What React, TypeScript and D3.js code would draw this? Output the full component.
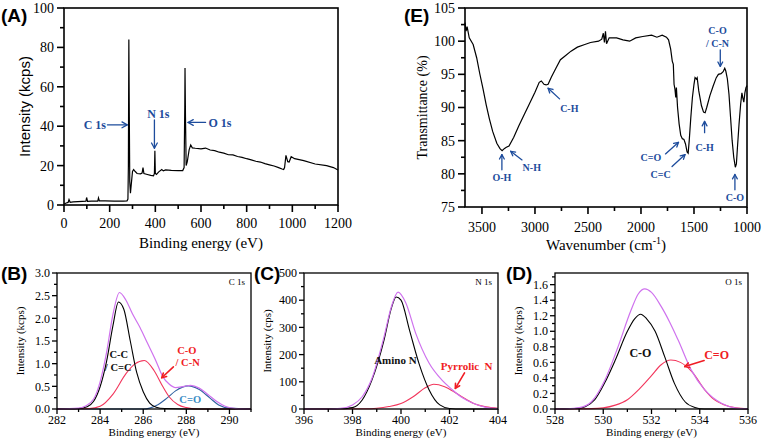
import React from "react";
import * as d3 from "d3";

type P = [number, number];

// (A) XPS survey: binding energy (eV), intensity (kcps)
const surveyPoints: P[] = [
  [0, 0.5], [10, 1.0], [18, 1.3], [22, 2.8], [27, 1.4], [40, 1.6], [60, 1.7], [80, 1.8], [96, 1.9], [99, 3.8],
  [103, 1.9], [120, 2.0], [148, 2.0], [151, 3.6], [155, 2.1], [180, 2.1], [220, 2.0], [260, 2.0], [276, 2.1],
  [280, 3], [282, 20], [284, 84], [286, 45], [288, 12], [291, 6], [295, 11], [300, 17], [305, 18], [312, 17],
  [320, 16], [335, 15.8], [342, 16.2], [346, 19], [350, 16], [365, 15.5], [380, 15], [392, 14.8], [396, 16],
  [398, 27.5], [400, 16], [405, 15.5], [415, 16.8], [428, 18], [435, 17.3], [445, 17.8], [470, 17.6], [500, 17.5],
  [520, 17.5], [526, 19], [529, 50], [530, 69.5], [532, 45], [535, 20], [540, 22], [548, 28], [555, 30.5],
  [562, 29], [575, 28.8], [600, 28.5], [620, 28.9], [640, 27.9], [660, 27.6], [680, 26.8], [700, 26.3],
  [720, 25.5], [740, 25.4], [760, 24.6], [780, 24.2], [800, 23.5], [820, 22.9], [840, 22.2], [860, 21.8],
  [880, 21.0], [900, 20.4], [920, 19.8], [940, 19.0], [955, 18.3], [962, 18], [966, 19], [972, 25.2], [980, 22],
  [986, 21.8], [995, 24.5], [1010, 23.5], [1050, 22.5], [1100, 20.8], [1150, 20], [1180, 19], [1200, 17.8],
];
const surveyXTicks = [0, 200, 400, 600, 800, 1000, 1200];
const surveyYTicks = [0, 20, 40, 60, 80, 100];
const surveyLabels = [
  { text: "C 1s", x: 135, y: 40.7 },
  { text: "N 1s", x: 413, y: 46.3 },
  { text: "O 1s", x: 683, y: 41.9 },
];
const surveyArrows = [
  { x1: 190, y1: 40.7, x2: 277, y2: 40.7 },
  { x1: 396, y1: 43.2, x2: 396, y2: 28.8 },
  { x1: 620, y1: 41.9, x2: 543, y2: 41.9 },
];

// (E) FTIR: wavenumber (cm-1), transmittance (%)
const ftirPoints: P[] = [
  [3660, 102.8], [3650, 101.5], [3640, 102.2], [3620, 100.5], [3583, 99.5], [3550, 97.5], [3522, 95.2],
  [3490, 92.8], [3460, 90.4], [3430, 88.3], [3399, 86.4], [3360, 84.6], [3330, 83.8], [3310, 83.5],
  [3290, 83.8], [3270, 84.0], [3245, 84.2], [3200, 85.5], [3153, 87.2], [3100, 89.0], [3060, 90.3],
  [3000, 92.3], [2960, 93.8], [2940, 94.0], [2915, 93.5], [2895, 93.4], [2876, 93.5], [2845, 94.6],
  [2800, 96.0], [2760, 97.2], [2722, 97.7], [2660, 98.5], [2600, 99.1], [2530, 99.5], [2476, 99.8],
  [2400, 100.0], [2370, 100.3], [2355, 101.2], [2345, 99.8], [2335, 101.5], [2325, 99.6], [2300, 100.5],
  [2230, 100.5], [2170, 100.2], [2107, 100.0], [2050, 100.5], [1983, 100.7], [1900, 100.9], [1850, 100.6],
  [1800, 100.9], [1760, 100.6], [1740, 100.2], [1720, 98.8], [1705, 97], [1695, 96.5], [1688, 93.5],
  [1680, 92.8], [1672, 91.5], [1666, 93], [1655, 90], [1640, 87.5], [1625, 85.8], [1610, 85.3], [1595, 85.2],
  [1580, 84.5], [1565, 83.3], [1555, 83.1], [1545, 85], [1530, 88.5], [1515, 91.5], [1500, 93.5], [1490, 94.5],
  [1478, 94.3], [1470, 94.5], [1455, 92.5], [1430, 90.3], [1410, 89.3], [1395, 89.2], [1380, 90], [1350, 91.8],
  [1320, 93.2], [1290, 94.5], [1270, 95.0], [1245, 95.1], [1225, 95.4], [1210, 95.9], [1200, 95.5], [1185, 94.3],
  [1170, 92], [1155, 88.5], [1140, 85], [1125, 82.5], [1110, 81.0], [1100, 81.5], [1090, 84], [1075, 87.5],
  [1060, 90.5], [1048, 92.2], [1040, 91.5], [1030, 90.8], [1020, 92.2], [1010, 93], [1000, 93.3],
];
const ftirXTicks = [3500, 3000, 2500, 2000, 1500, 1000];
const ftirYTicks = [75, 80, 85, 90, 95, 100, 105];
const ftirLabels = [
  { text: "O-H", x: 3312, y: 79.4 },
  { text: "N-H", x: 3030, y: 80.9 },
  { text: "C-H", x: 2676, y: 89.9 },
  { text: "C=O", x: 1907, y: 82.4 },
  { text: "C=C", x: 1815, y: 79.9 },
  { text: "C-H", x: 1400, y: 83.9 },
  { text: "C-O", x: 1278, y: 101.6 },
  { text: "/ C-N", x: 1278, y: 99.7 },
  { text: "C-O", x: 1114, y: 76.4 },
];
const ftirArrows = [
  { x1: 3312, y1: 80.6, x2: 3312, y2: 82.9 },
  { x1: 3122, y1: 82.1, x2: 3229, y2: 83.4 },
  { x1: 2768, y1: 91.3, x2: 2876, y2: 92.9 },
  { x1: 1769, y1: 83.0, x2: 1646, y2: 84.75 },
  { x1: 1707, y1: 81.1, x2: 1584, y2: 82.9 },
  { x1: 1400, y1: 86.2, x2: 1400, y2: 87.9 },
  { x1: 1252, y1: 98.7, x2: 1252, y2: 96.2 },
  { x1: 1114, y1: 77.6, x2: 1114, y2: 79.9 },
];

// (B) C 1s
const c1sEnvelope: P[] = [
  [282, 0], [283, 0.02], [283.3, 0.06], [283.7, 0.22], [284.0, 0.6], [284.3, 1.25], [284.6, 2.1], [284.9, 2.57],
  [285.2, 2.4], [285.5, 2.1], [285.85, 1.8], [286.2, 1.45], [286.6, 1.05], [286.9, 0.72], [287.2, 0.55],
  [287.5, 0.47], [287.9, 0.5], [288.2, 0.52], [288.6, 0.46], [289.0, 0.32], [289.4, 0.17], [289.8, 0.06],
  [290.3, 0.01], [291, 0],
];
const c1sCC: P[] = [
  [282, 0], [283, 0.01], [283.4, 0.05], [283.7, 0.17], [284.0, 0.49], [284.3, 1.05], [284.6, 1.85], [284.85, 2.36],
  [285.1, 2.2], [285.4, 1.5], [285.7, 0.8], [286.0, 0.38], [286.3, 0.13], [286.6, 0.04], [287.0, 0.01], [288, 0], [291, 0],
];
const c1sCO: P[] = [
  [282, 0], [283.5, 0.01], [284.0, 0.06], [284.6, 0.33], [285.2, 0.78], [285.6, 0.99], [286.05, 1.07], [286.5, 0.85],
  [286.9, 0.5], [287.2, 0.27], [287.6, 0.1], [288, 0.03], [288.5, 0], [291, 0],
];
const c1sCdO: P[] = [
  [282, 0], [286, 0], [286.3, 0.02], [286.7, 0.1], [287.1, 0.24], [287.5, 0.4], [288.1, 0.51], [288.6, 0.43],
  [289.1, 0.24], [289.5, 0.09], [290, 0.02], [291, 0],
];
const c1sXTicks = [282, 284, 286, 288, 290];
const c1sYTicks = [0, 0.5, 1.0, 1.5, 2.0, 2.5, 3.0];

// (C) N 1s
const n1sEnvelope: P[] = [
  [396, 0], [397, 0], [397.5, 2], [398, 15], [398.4, 45], [398.8, 112], [399.3, 265], [399.6, 375], [399.88, 430],
  [400.2, 390], [400.6, 280], [401.15, 170], [401.7, 105], [402.1, 72], [402.55, 40], [403, 20], [403.5, 6], [404, 1],
];
const n1sAmino: P[] = [
  [396, 0], [397, 0], [397.5, 1], [398, 5], [398.4, 33], [398.8, 106], [399.3, 253], [399.6, 370], [399.8, 412],
  [400.0, 400], [400.35, 290], [400.75, 165], [401.15, 72], [401.6, 15], [402, 2], [402.5, 0], [404, 0],
];
const n1sPyrrolic: P[] = [
  [396, 0], [398.5, 1], [399, 3], [399.5, 9], [400, 20], [400.5, 45], [401, 78], [401.35, 91], [401.8, 82],
  [402.3, 57], [402.7, 35], [403, 20], [403.5, 8], [404, 3],
];
const n1sXTicks = [396, 398, 400, 402, 404];
const n1sYTicks = [0, 100, 200, 300, 400, 500];

// (D) O 1s
const o1sEnvelope: P[] = [
  [528, 0], [528.5, 0.003], [529, 0.017], [529.5, 0.09], [530.05, 0.36], [530.6, 0.79], [531.15, 1.27],
  [531.45, 1.48], [531.72, 1.545], [532.0, 1.5], [532.4, 1.32], [532.75, 1.12], [533.1, 0.89], [533.65, 0.5],
  [534.2, 0.25], [534.9, 0.075], [535.5, 0.012], [536, 0.003],
];
const o1sCO: P[] = [
  [528, 0], [529, 0.01], [529.25, 0.03], [529.65, 0.12], [530.05, 0.33], [530.5, 0.63], [531.0, 1.0], [531.3, 1.16],
  [531.55, 1.22], [531.8, 1.16], [532.15, 1.0], [532.55, 0.67], [532.95, 0.33], [533.4, 0.09], [533.8, 0.02],
  [534.2, 0], [536, 0],
];
const o1sCdO: P[] = [
  [528, 0], [529.5, 0.005], [530, 0.015], [530.5, 0.05], [531, 0.12], [531.5, 0.26], [532, 0.43], [532.4, 0.57],
  [532.8, 0.63], [533.2, 0.6], [533.7, 0.47], [534.2, 0.25], [534.6, 0.12], [535, 0.055], [535.5, 0.015], [536, 0.003],
];
const o1sXTicks = [528, 530, 532, 534, 536];
const o1sYTicks = [0, 0.2, 0.4, 0.6, 0.8, 1.0, 1.2, 1.4, 1.6];

const serif = "Liberation Serif, Times New Roman, DejaVu Serif, serif";
const sans = "Liberation Sans, Arial, DejaVu Sans, sans-serif";
const BLUE = "#1d4c9c";
const RED = "#f01c24";
const MAGENTA = "#cf72ee";
const PINK = "#f2365c";

type Frame = { l: number; r: number; t: number; b: number };
type Scale = d3.ScaleLinear<number, number>;

function minorTicks(domain: [number, number], step: number, major: number[]) {
  const lo = Math.min(...domain), hi = Math.max(...domain);
  const out: number[] = [];
  for (let v = Math.ceil(lo / step - 1e-9) * step; v <= hi + 1e-9; v += step) {
    const r = Math.round(v * 1000) / 1000;
    if (!major.some((m) => Math.abs(m - r) < 1e-6)) out.push(r);
  }
  return out;
}

function Axes(props: {
  f: Frame; x: Scale; y: Scale; xMajor: number[]; yMajor: number[]; xMinorStep: number; yMinorStep: number;
  xFmt: (v: number) => string; yFmt: (v: number) => string; fs: number; maj: number; min: number;
  xLab: number; gap: number; sw: number;
}) {
  const { f, x, y, xMajor, yMajor, fs, maj, min, xLab, gap, sw } = props;
  const xMinor = minorTicks(x.domain() as [number, number], props.xMinorStep, xMajor);
  const yMinor = minorTicks(y.domain() as [number, number], props.yMinorStep, yMajor);
  return (
    <g>
      <rect x={f.l} y={f.t} width={f.r - f.l} height={f.b - f.t} fill="none" stroke="#000" strokeWidth={sw} />
      {xMajor.map((v) => (
        <line key={"xM" + v} x1={x(v)} x2={x(v)} y1={f.b} y2={f.b + maj} stroke="#000" strokeWidth={sw} />
      ))}
      {xMinor.map((v) => (
        <line key={"xm" + v} x1={x(v)} x2={x(v)} y1={f.b} y2={f.b + min} stroke="#000" strokeWidth={sw} />
      ))}
      {yMajor.map((v) => (
        <line key={"yM" + v} x1={f.l - maj} x2={f.l} y1={y(v)} y2={y(v)} stroke="#000" strokeWidth={sw} />
      ))}
      {yMinor.map((v) => (
        <line key={"ym" + v} x1={f.l - min} x2={f.l} y1={y(v)} y2={y(v)} stroke="#000" strokeWidth={sw} />
      ))}
      {xMajor.map((v) => (
        <text key={"xt" + v} x={x(v)} y={f.b + xLab} textAnchor="middle" style={{ fontFamily: serif }} fontSize={fs} fill="#000">
          {props.xFmt(v)}
        </text>
      ))}
      {yMajor.map((v) => (
        <text key={"yt" + v} x={f.l - maj - gap} y={y(v)} dy="0.35em" textAnchor="end" style={{ fontFamily: serif }} fontSize={fs} fill="#000">
          {props.yFmt(v)}
        </text>
      ))}
    </g>
  );
}

function Arrow({ x1, y1, x2, y2, color, sw, head }: { x1: number; y1: number; x2: number; y2: number; color: string; sw: number; head: number }) {
  const a = Math.atan2(y2 - y1, x2 - x1);
  const h1 = [x2 - head * Math.cos(a - 0.5), y2 - head * Math.sin(a - 0.5)];
  const h2 = [x2 - head * Math.cos(a + 0.5), y2 - head * Math.sin(a + 0.5)];
  return (
    <g stroke={color} strokeWidth={sw} fill="none" strokeLinecap="round" strokeLinejoin="round">
      <line x1={x1} y1={y1} x2={x2} y2={y2} />
      <polyline points={`${h1[0]},${h1[1]} ${x2},${y2} ${h2[0]},${h2[1]}`} />
    </g>
  );
}

export default function App() {
  const fA: Frame = { l: 64, r: 338, t: 8, b: 205 };
  const xA = d3.scaleLinear().domain([0, 1200]).range([fA.l, fA.r]);
  const yA = d3.scaleLinear().domain([0, 100]).range([fA.b, fA.t]);
  const lineA = d3.line<P>().x((d) => xA(d[0])).y((d) => yA(d[1]));

  const fE: Frame = { l: 465, r: 747, t: 8, b: 207 };
  const xE = d3.scaleLinear().domain([3660, 1000]).range([fE.l, fE.r]);
  const yE = d3.scaleLinear().domain([75, 105]).range([fE.b, fE.t]);
  const lineE = d3.line<P>().x((d) => xE(d[0])).y((d) => yE(d[1]));

  const fB: Frame = { l: 57, r: 251, t: 273, b: 409 };
  const xB = d3.scaleLinear().domain([282, 291]).range([fB.l, fB.r]);
  const yB = d3.scaleLinear().domain([0, 3]).range([fB.b, fB.t]);
  const lineB = d3.line<P>().x((d) => xB(d[0])).y((d) => yB(d[1])).curve(d3.curveMonotoneX);

  const fC: Frame = { l: 304, r: 498, t: 273, b: 409 };
  const xC = d3.scaleLinear().domain([396, 404]).range([fC.l, fC.r]);
  const yC = d3.scaleLinear().domain([0, 500]).range([fC.b, fC.t]);
  const lineC = d3.line<P>().x((d) => xC(d[0])).y((d) => yC(d[1])).curve(d3.curveMonotoneX);

  const fD: Frame = { l: 555, r: 748, t: 273, b: 409 };
  const xD = d3.scaleLinear().domain([528, 536]).range([fD.l, fD.r]);
  const yD = d3.scaleLinear().domain([0, 1.75]).range([fD.b, fD.t]);
  const lineD = d3.line<P>().x((d) => xD(d[0])).y((d) => yD(d[1])).curve(d3.curveMonotoneX);

  const f0 = (v: number) => String(v);
  const f1 = d3.format(".1f");
  const S = { fontFamily: serif } as React.CSSProperties;
  const SS = { fontFamily: sans } as React.CSSProperties;

  const smallTitle = (f: Frame, yText: string) => (
    <g style={S} fontSize={11} fill="#000">
      <text x={(f.l + f.r) / 2} y={f.b + 27} textAnchor="middle">Binding energy (eV)</text>
      <text transform={`translate(${f.l - 33},${(f.t + f.b) / 2}) rotate(-90)`} textAnchor="middle">{yText}</text>
    </g>
  );

  return (
    <svg width={765} height={444} style={{ position: "absolute", left: 0, top: 0, background: "#fff" }}>
      <rect width={765} height={444} fill="#fff" />
      {/* Panel A */}
      <path d={lineA(surveyPoints) || ""} fill="none" stroke="#000" strokeWidth={1.2} />
      <Axes f={fA} x={xA} y={yA} xMajor={surveyXTicks} yMajor={surveyYTicks} xMinorStep={100} yMinorStep={10}
        xFmt={f0} yFmt={f0} fs={14} maj={7} min={4} xLab={23} gap={3} sw={1.6} />
      {surveyArrows.map((a, i) => (
        <Arrow key={i} x1={xA(a.x1)} y1={yA(a.y1)} x2={xA(a.x2)} y2={yA(a.y2)} color={BLUE} sw={1.3} head={6} />
      ))}
      {surveyLabels.map((l, i) => (
        <text key={i} x={xA(l.x)} y={yA(l.y)} dy="0.35em" textAnchor="middle" style={S} fontWeight="bold" fontSize={12} fill={BLUE}>{l.text}</text>
      ))}
      <text x={(fA.l + fA.r) / 2} y={248} textAnchor="middle" style={S} fontSize={15}>Binding energy (eV)</text>
      <text transform={`translate(25,${(fA.t + fA.b) / 2}) rotate(-90)`} dy="0.35em" textAnchor="middle" style={SS} fontSize={15}>Intensity (kcps)</text>
      <text x={1} y={22} style={SS} fontWeight="bold" fontSize={19}>(A)</text>

      {/* Panel E */}
      <path d={lineE(ftirPoints) || ""} fill="none" stroke="#000" strokeWidth={1.2} />
      <Axes f={fE} x={xE} y={yE} xMajor={ftirXTicks} yMajor={ftirYTicks} xMinorStep={250} yMinorStep={2.5}
        xFmt={f0} yFmt={f0} fs={14} maj={7} min={4} xLab={25} gap={3} sw={1.6} />
      {ftirArrows.map((a, i) => (
        <Arrow key={i} x1={xE(a.x1)} y1={yE(a.y1)} x2={xE(a.x2)} y2={yE(a.y2)} color={BLUE} sw={1.3} head={5} />
      ))}
      {ftirLabels.map((l, i) => (
        <text key={i} x={xE(l.x)} y={yE(l.y)} dy="0.35em" textAnchor="middle" style={S} fontWeight="bold" fontSize={10} fill={BLUE}>{l.text}</text>
      ))}
      <text x={(fE.l + fE.r) / 2} y={250} textAnchor="middle" style={S} fontSize={15}>
        Wavenumber (cm<tspan dy={-6} fontSize={10}>-1</tspan><tspan dy={6}>)</tspan>
      </text>
      <text transform={`translate(422,${(fE.t + fE.b) / 2}) rotate(-90)`} dy="0.35em" textAnchor="middle" style={S} fontSize={14}>Transmittance (%)</text>
      <text x={404} y={22} style={SS} fontWeight="bold" fontSize={19}>(E)</text>

      {/* Panel B */}
      <path d={lineB(c1sCdO) || ""} fill="none" stroke="#2f5f9f" strokeWidth={1.1} />
      <path d={lineB(c1sCO) || ""} fill="none" stroke={PINK} strokeWidth={1.1} />
      <path d={lineB(c1sCC) || ""} fill="none" stroke="#000" strokeWidth={1.1} />
      <path d={lineB(c1sEnvelope) || ""} fill="none" stroke={MAGENTA} strokeWidth={1.2} />
      <Axes f={fB} x={xB} y={yB} xMajor={c1sXTicks} yMajor={c1sYTicks} xMinorStep={1} yMinorStep={0.25}
        xFmt={f0} yFmt={f1} fs={12} maj={5} min={3} xLab={15} gap={2} sw={1.3} />
      {smallTitle(fB, "Intensity (kcps)")}
      <text x={fB.r - 6} y={fB.t + 12} textAnchor="end" style={S} fontSize={9}>C 1s</text>
      <g style={S} fontWeight="bold" fontSize={10.5}>
        <text x={xB(284.87)} y={yB(1.2)} dy="0.35em" textAnchor="middle" fill="#111">C-C</text>
        <text x={xB(284.84)} y={yB(0.92)} dy="0.35em" textAnchor="middle" fill="#111">/ C=C</text>
        <text x={xB(288.02)} y={yB(1.29)} dy="0.35em" textAnchor="middle" fill={RED}>C-O</text>
        <text x={xB(288.06)} y={yB(1.02)} dy="0.35em" textAnchor="middle" fill={RED}>/ C-N</text>
        <text x={xB(288.18)} y={yB(0.21)} dy="0.35em" textAnchor="middle" fill="#3b8dc5">C=O</text>
      </g>
      <Arrow x1={xB(287.4)} y1={yB(0.93)} x2={xB(286.86)} y2={yB(0.69)} color={RED} sw={1.6} head={5} />
      <text x={1} y={280} style={SS} fontWeight="bold" fontSize={19}>(B)</text>

      {/* Panel C */}
      <path d={lineC(n1sPyrrolic) || ""} fill="none" stroke={PINK} strokeWidth={1.1} />
      <path d={lineC(n1sAmino) || ""} fill="none" stroke="#000" strokeWidth={1.1} />
      <path d={lineC(n1sEnvelope) || ""} fill="none" stroke={MAGENTA} strokeWidth={1.2} />
      <Axes f={fC} x={xC} y={yC} xMajor={n1sXTicks} yMajor={n1sYTicks} xMinorStep={1} yMinorStep={50}
        xFmt={f0} yFmt={f0} fs={12} maj={5} min={3} xLab={15} gap={2} sw={1.3} />
      {smallTitle(fC, "Intensity (cps)")}
      <text x={fC.r - 6} y={fC.t + 12} textAnchor="end" style={S} fontSize={9}>N 1s</text>
      <g style={S} fontWeight="bold" fontSize={11}>
        <text x={xC(399.77)} y={yC(180)} dy="0.35em" textAnchor="middle" fill="#111">Amino N</text>
        <text x={xC(402.71)} y={yC(158)} dy="0.35em" textAnchor="middle" fill={RED} xmlSpace="preserve">{"Pyrrolic  N"}</text>
      </g>
      <Arrow x1={xC(402.62)} y1={yC(133)} x2={xC(402.24)} y2={yC(76)} color={RED} sw={1.6} head={5} />
      <text x={254} y={280} style={SS} fontWeight="bold" fontSize={19}>(C)</text>

      {/* Panel D */}
      <path d={lineD(o1sCdO) || ""} fill="none" stroke={PINK} strokeWidth={1.1} />
      <path d={lineD(o1sCO) || ""} fill="none" stroke="#000" strokeWidth={1.1} />
      <path d={lineD(o1sEnvelope) || ""} fill="none" stroke={MAGENTA} strokeWidth={1.2} />
      <Axes f={fD} x={xD} y={yD} xMajor={o1sXTicks} yMajor={o1sYTicks} xMinorStep={1} yMinorStep={0.1}
        xFmt={f0} yFmt={f1} fs={12} maj={5} min={3} xLab={15} gap={2} sw={1.3} />
      {smallTitle(fD, "Intensity (kcps)")}
      <text x={fD.r - 6} y={fD.t + 12} textAnchor="end" style={S} fontSize={9}>O 1s</text>
      <g style={S} fontWeight="bold" fontSize={12}>
        <text x={xD(531.54)} y={yD(0.727)} dy="0.35em" textAnchor="middle" fill="#111">C-O</text>
        <text x={xD(534.7)} y={yD(0.697)} dy="0.35em" textAnchor="middle" fill={RED}>C=O</text>
      </g>
      <Arrow x1={xD(534.18)} y1={yD(0.624)} x2={xD(533.38)} y2={yD(0.546)} color={RED} sw={1.6} head={5} />
      <text x={506} y={280} style={SS} fontWeight="bold" fontSize={19}>(D)</text>
    </svg>
  );
}
